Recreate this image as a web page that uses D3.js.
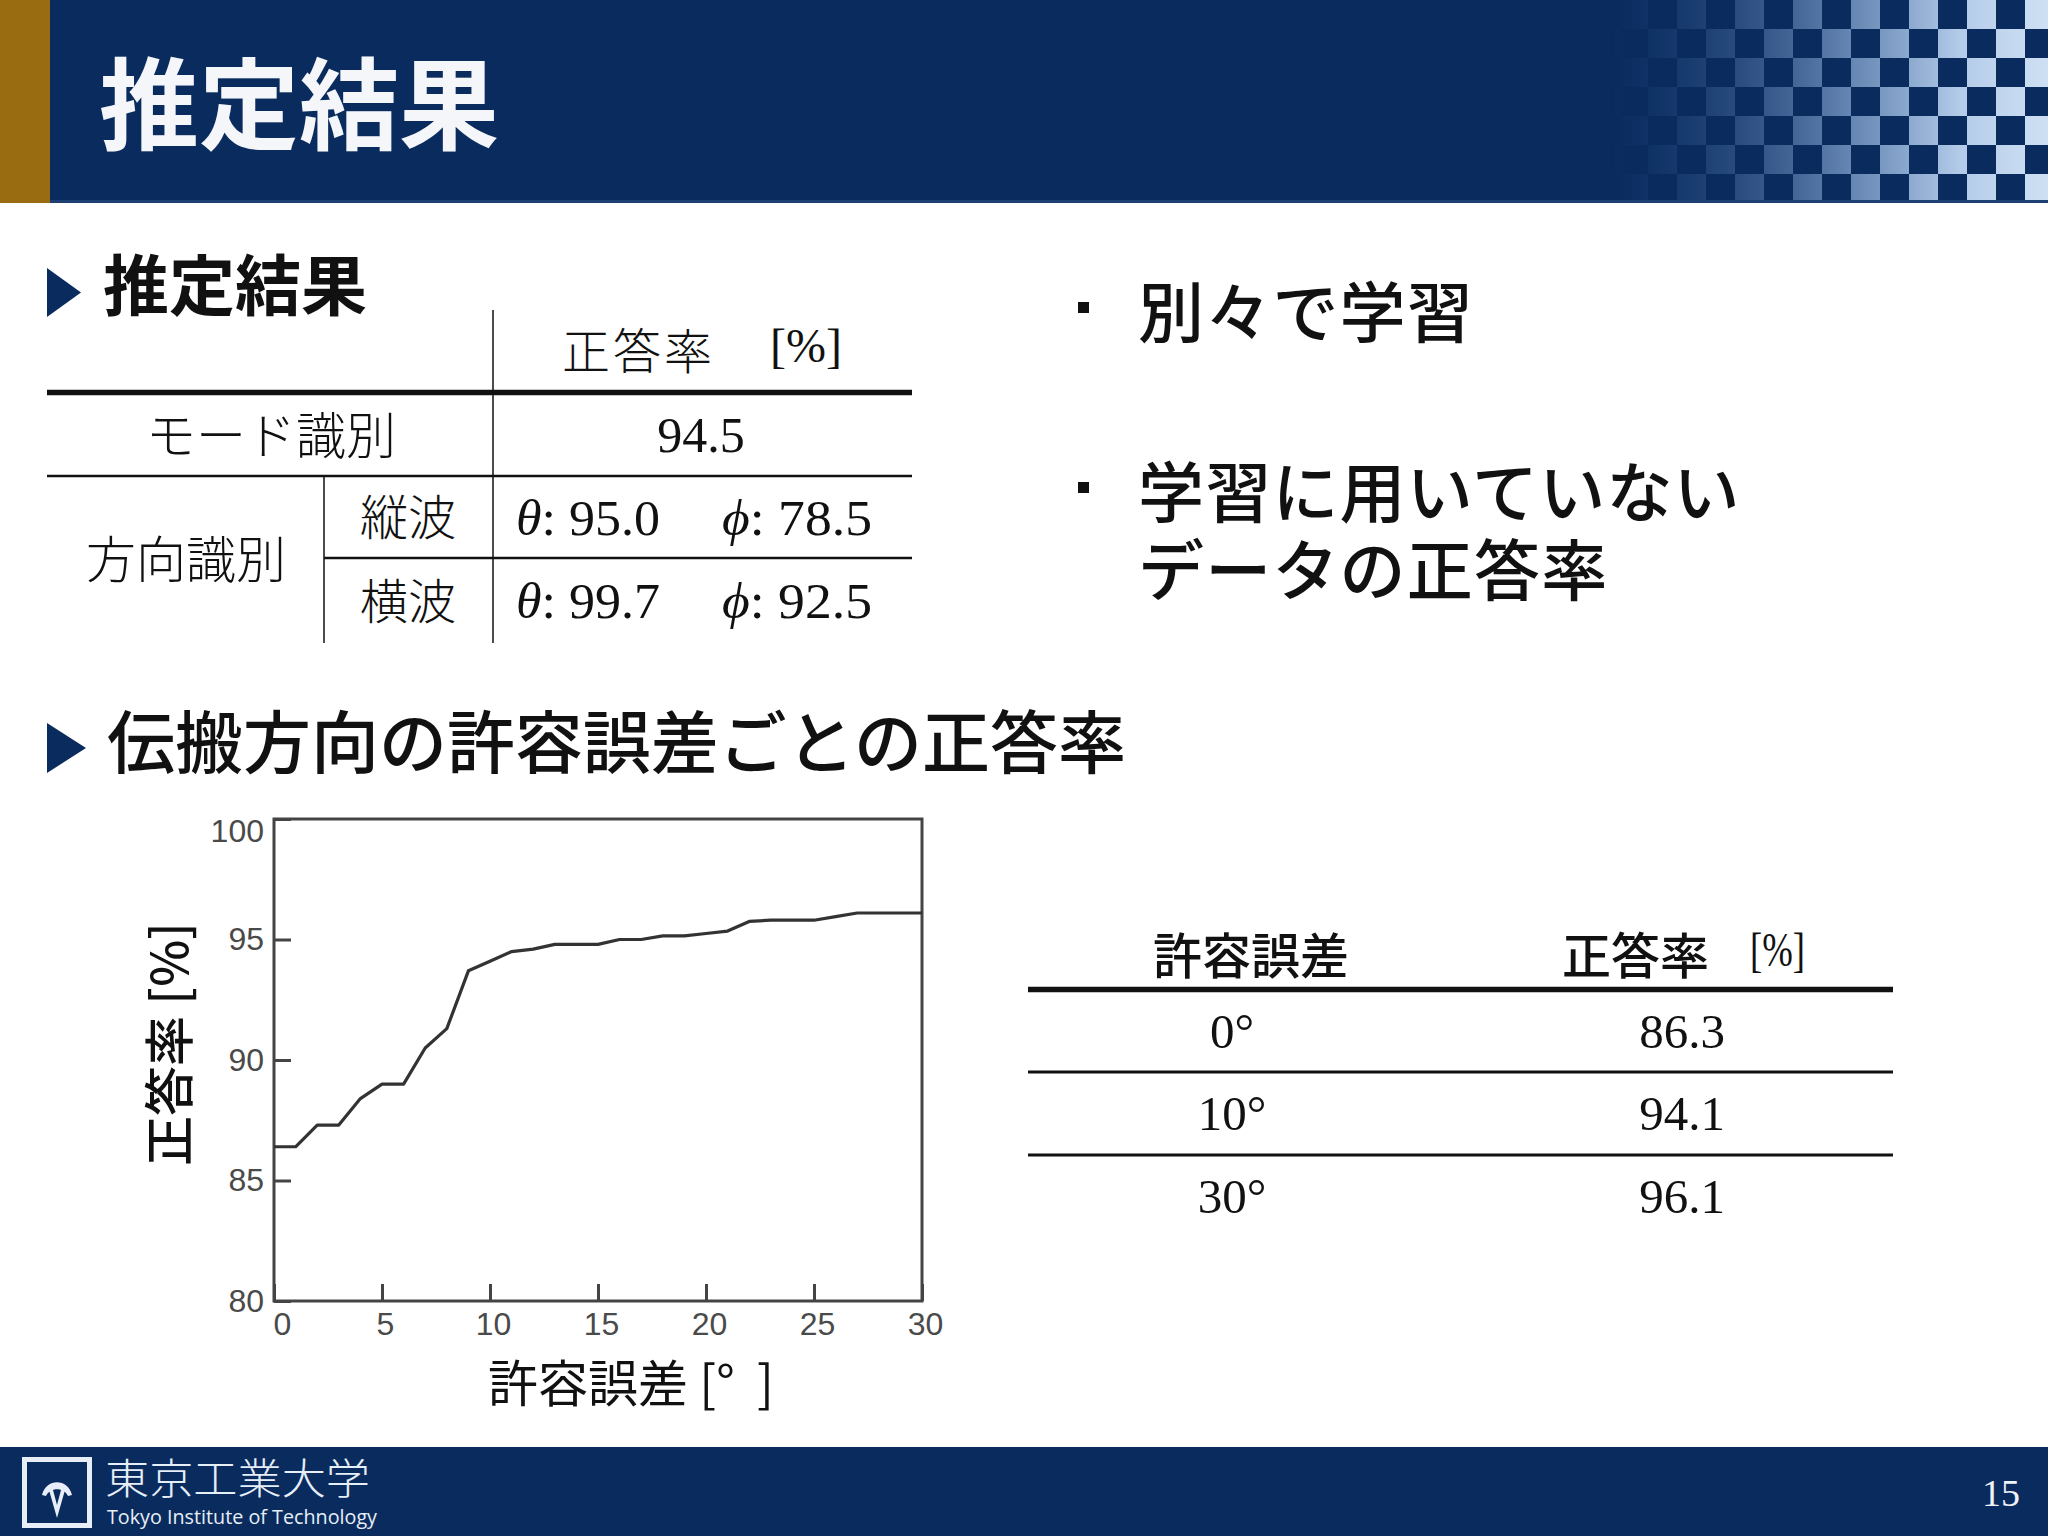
<!DOCTYPE html>
<html><head><meta charset="utf-8">
<script src="https://cdn.jsdelivr.net/npm/d3@7"></script>
<style>
html,body{margin:0;padding:0;background:#fff;}
svg{display:block;}
text{white-space:pre;}
</style></head><body>
<svg id="slide" width="2048" height="1536"></svg>
<script>
// ---------- data ----------
const slideTitle = "推定結果";
const section1Title = "推定結果";
const section2Title = "伝搬方向の許容誤差ごとの正答率";
const bulletLines = [["別々で学習"], ["学習に用いていない", "データの正答率"]];

const table1Header = ["正答率", "[%]"];
const modeLabel = "モード識別";
const modeValue = "94.5";
const directionLabel = "方向識別";
const waveTypes = ["縦波", "横波"];
const thetaValues = ["95.0", "99.7"];
const phiValues = ["78.5", "92.5"];

const table2Header = ["許容誤差", "正答率", "[%]"];
const table2Tolerance = ["0", "10", "30"];
const table2Accuracy = ["86.3", "94.1", "96.1"];

const toleranceDeg = [0,1,2,3,4,5,6,7,8,9,10,11,12,13,14,15,16,17,18,19,20,21,22,23,24,25,26,27,28,29,30];
const accuracyPct = [86.4,86.4,87.3,87.3,88.4,89.0,89.0,90.5,91.3,93.7,94.1,94.5,94.6,94.8,94.8,94.8,95.0,95.0,95.15,95.15,95.25,95.35,95.75,95.8,95.8,95.8,95.95,96.1,96.1,96.1,96.1];
const xTickValues = [0,5,10,15,20,25,30];
const yTickValues = [80,85,90,95,100];
const xAxisLabel = "許容誤差 [°  ]";
const yAxisLabel = "正答率 [%]";

const footerJa = "東京工業大学";
const footerEn = "Tokyo Institute of Technology";
const pageNumber = "15";

// ---------- styles ----------
const NAVY = "#0a2b5e";
const GOLD = "#9a6c12";
const CJK = "'Noto Sans CJK JP','Noto Sans CJK SC',sans-serif";
const SERIF = "'Liberation Serif','Times New Roman',serif";
const SANS = "'Liberation Sans',Arial,sans-serif";

const svg = d3.select("#slide");
const defs = svg.append("defs");

// ---------- header ----------
svg.append("rect").attr("x",0).attr("y",0).attr("width",2048).attr("height",203).attr("fill",NAVY);
svg.append("rect").attr("x",0).attr("y",0).attr("width",50).attr("height",203).attr("fill",GOLD);

// checker decoration
const pat = defs.append("pattern").attr("id","chk").attr("patternUnits","userSpaceOnUse")
  .attr("x",1648).attr("y",0).attr("width",58).attr("height",58);
pat.append("rect").attr("width",58).attr("height",58).attr("fill","black");
pat.append("rect").attr("x",29).attr("y",0).attr("width",29).attr("height",29).attr("fill","white");
pat.append("rect").attr("x",0).attr("y",29).attr("width",29).attr("height",29).attr("fill","white");
const fade = defs.append("linearGradient").attr("id","fade").attr("gradientUnits","userSpaceOnUse")
  .attr("x1",1610).attr("y1",0).attr("x2",1960).attr("y2",0);
fade.append("stop").attr("offset",0).attr("stop-color","black");
fade.append("stop").attr("offset",0.35).attr("stop-color","#555");
fade.append("stop").attr("offset",1).attr("stop-color","white");
const m1 = defs.append("mask").attr("id","mchk").attr("maskUnits","userSpaceOnUse")
  .attr("x",0).attr("y",0).attr("width",2048).attr("height",203);
m1.append("rect").attr("x",1600).attr("y",0).attr("width",448).attr("height",203).attr("fill","url(#chk)");
const m2 = defs.append("mask").attr("id","mfade").attr("maskUnits","userSpaceOnUse")
  .attr("x",0).attr("y",0).attr("width",2048).attr("height",203);
m2.append("rect").attr("x",1600).attr("y",0).attr("width",448).attr("height",203).attr("fill","url(#fade)");
const lightGrad = defs.append("linearGradient").attr("id","lightg").attr("gradientUnits","userSpaceOnUse")
  .attr("x1",1640).attr("y1",0).attr("x2",2048).attr("y2",0);
lightGrad.append("stop").attr("offset",0).attr("stop-color","#3f6aa3");
lightGrad.append("stop").attr("offset",0.5).attr("stop-color","#8fb0da");
lightGrad.append("stop").attr("offset",1).attr("stop-color","#cfe0f4");
svg.append("g").attr("mask","url(#mfade)")
  .append("rect").attr("x",1600).attr("y",0).attr("width",448).attr("height",200)
  .attr("fill","url(#lightg)").attr("mask","url(#mchk)");
svg.append("rect").attr("x",50).attr("y",200).attr("width",1998).attr("height",3).attr("fill","#1d3f72");

svg.append("text").attr("x",99).attr("y",98).attr("dominant-baseline","central")
  .attr("font-family",CJK).attr("font-weight",700).attr("font-size",100).attr("fill","#f4f6fa")
  .text(slideTitle);

// ---------- section markers ----------
function marker(x0, y0, y1, x1) {
  svg.append("path").attr("d", d3.line()([[x0,y0],[x1,(y0+y1)/2],[x0,y1]]) + "Z").attr("fill", NAVY);
}
marker(47, 268, 317, 81);
marker(47, 723, 773, 86);

svg.append("text").attr("x",103).attr("y",281).attr("dominant-baseline","central")
  .attr("font-family",CJK).attr("font-weight",700).attr("font-size",66).attr("fill","#111")
  .text(section1Title);
svg.append("text").attr("x",107).attr("y",738).attr("dominant-baseline","central")
  .attr("font-family",CJK).attr("font-weight",500).attr("font-size",68)
  .attr("textLength",1019).attr("lengthAdjust","spacingAndGlyphs").attr("fill","#111")
  .text(section2Title);

// ---------- table 1 ----------
const t1 = svg.append("g");
function hline(g, x1, x2, y, w) { g.append("line").attr("x1",x1).attr("x2",x2).attr("y1",y).attr("y2",y).attr("stroke","#111").attr("stroke-width",w); }
function vline(g, x, y1, y2, w) { g.append("line").attr("x1",x).attr("x2",x).attr("y1",y1).attr("y2",y2).attr("stroke","#111").attr("stroke-width",w); }
hline(t1, 47, 912, 392.5, 5.5);
hline(t1, 47, 912, 476, 2.5);
hline(t1, 324, 912, 558, 2.5);
vline(t1, 493, 310, 643, 1.5);
vline(t1, 324, 476, 643, 1.5);

function cjk(g, x, y, s, size, anchor, weight) {
  return g.append("text").attr("x",x).attr("y",y).attr("dominant-baseline","central")
    .attr("text-anchor",anchor||"middle").attr("font-family",CJK).attr("font-weight",weight||300)
    .attr("font-size",size).attr("fill","#111").text(s);
}
function serif(g, x, y, s, size, anchor) {
  return g.append("text").attr("x",x).attr("y",y).attr("text-anchor",anchor||"middle")
    .attr("font-family",SERIF).attr("font-size",size).attr("fill","#111").text(s);
}
cjk(t1, 562, 348, table1Header[0], 48, "start").attr("letter-spacing",3);
serif(t1, 770, 362, table1Header[1], 48, "start");
cjk(t1, 271, 432, modeLabel, 50);
serif(t1, 701, 452, modeValue, 50);
cjk(t1, 186, 556, directionLabel, 50);
const rowY = [514, 598];
const rowBase = [535, 618];
waveTypes.forEach((w,i) => {
  cjk(t1, 408, rowY[i], w, 48);
  const a = t1.append("text").attr("x",516).attr("y",rowBase[i]).attr("font-family",SERIF).attr("font-size",50)
    .attr("textLength",144).attr("lengthAdjust","spacingAndGlyphs").attr("fill","#111");
  a.append("tspan").attr("font-style","italic").text("θ");
  a.append("tspan").text(": " + thetaValues[i]);
  const b = t1.append("text").attr("x",722).attr("y",rowBase[i]).attr("font-family",SERIF).attr("font-size",50)
    .attr("textLength",150).attr("lengthAdjust","spacingAndGlyphs").attr("fill","#111");
  b.append("tspan").attr("font-style","italic").text("ϕ");
  b.append("tspan").text(": " + phiValues[i]);
});

// ---------- bullets ----------
const bl = svg.append("g");
const bulletY = [308, 488];
const lineGap = 78;
bulletLines.forEach((lines, i) => {
  bl.append("rect").attr("x",1078).attr("y",bulletY[i]-6).attr("width",11).attr("height",11).attr("fill","#111");
  const t = bl.append("text").attr("y",bulletY[i]).attr("dominant-baseline","central")
    .attr("font-family",CJK).attr("font-weight",500).attr("font-size",66).attr("letter-spacing",1.2)
    .attr("fill","#111");
  lines.forEach((s, j) => {
    t.append("tspan").attr("x",1138).attr("y",bulletY[i] + j*lineGap).text(s);
  });
});

// ---------- table 2 ----------
const t2 = svg.append("g");
hline(t2, 1028, 1893, 989.5, 5.5);
hline(t2, 1028, 1893, 1072, 3);
hline(t2, 1028, 1893, 1155, 3);
cjk(t2, 1251, 952, table2Header[0], 49, "middle", 500);
cjk(t2, 1562, 952, table2Header[1], 49, "start", 500);
serif(t2, 1750, 966, table2Header[2], 48, "start").attr("textLength",55).attr("lengthAdjust","spacingAndGlyphs");
const t2Base = [1048, 1130, 1213];
table2Tolerance.forEach((d,i) => {
  serif(t2, 1232, t2Base[i], d + "°", 49);
  serif(t2, 1682, t2Base[i], table2Accuracy[i], 49);
});

// ---------- chart ----------
const x = d3.scaleLinear().domain([0,30]).range([274,922]);
const y = d3.scaleLinear().domain([80,100]).range([1301,819]);
const chart = svg.append("g");

const xAxis = chart.append("g").attr("transform",`translate(0,${y(80)})`)
  .call(d3.axisBottom(x).tickValues(xTickValues).tickSize(-17).tickPadding(11).tickFormat(d3.format("d")));
const yAxis = chart.append("g").attr("transform",`translate(${x(0)},0)`)
  .call(d3.axisLeft(y).tickValues(yTickValues).tickSize(-17).tickPadding(10).tickFormat(d3.format("d")));
[xAxis, yAxis].forEach(a => {
  a.select(".domain").remove();
  a.selectAll(".tick line").attr("stroke","#444").attr("stroke-width",3);
  a.selectAll(".tick text").attr("fill","#4a4a4a").attr("font-family",SANS).attr("font-size",32);
});
xAxis.selectAll(".tick text").attr("dx", d => d === 0 ? 8 : 3);
yAxis.selectAll(".tick text").attr("dy", d => d === 100 ? "0.7em" : "0.32em");

chart.append("rect").attr("x",x(0)).attr("y",y(100)).attr("width",x(30)-x(0)).attr("height",y(80)-y(100))
  .attr("fill","none").attr("stroke","#444").attr("stroke-width",3);

const pts = toleranceDeg.map((d,i) => [d, accuracyPct[i]]);
chart.append("path").datum(pts)
  .attr("d", d3.line().x(d => x(d[0])).y(d => y(d[1])))
  .attr("fill","none").attr("stroke","#333").attr("stroke-width",3.2).attr("stroke-linejoin","round");

chart.append("text").attr("transform","translate(166,1044) rotate(-90)").attr("text-anchor","middle")
  .attr("dominant-baseline","central").attr("font-family",CJK).attr("font-weight",500).attr("font-size",50)
  .attr("fill","#111").text(yAxisLabel);
chart.append("text").attr("x",631).attr("y",1380).attr("text-anchor","middle")
  .attr("dominant-baseline","central").attr("font-family",CJK).attr("font-weight",400).attr("font-size",50)
  .attr("fill","#111").text(xAxisLabel);

// ---------- footer ----------
svg.append("rect").attr("x",0).attr("y",1447).attr("width",2048).attr("height",89).attr("fill",NAVY);
const logo = svg.append("g");
logo.append("rect").attr("x",22).attr("y",1457).attr("width",70).attr("height",71).attr("fill","#e8eef7");
logo.append("rect").attr("x",27).attr("y",1462).attr("width",60).attr("height",61).attr("fill",NAVY);
logo.append("path").attr("d","M42,1495 C46,1478 68,1478 72,1495 L68,1496 C64,1487 50,1487 46,1496 Z").attr("fill","#e8eef7");
logo.append("path").attr("d","M49,1490 L57,1518 L65,1490 L61,1490 L57,1505 L53,1490 Z").attr("fill","#e8eef7");
const ft = svg.append("text").attr("fill","#e6eef8");
ft.append("tspan").attr("x",105).attr("y",1494)
  .attr("font-family",CJK).attr("font-weight",300).attr("font-size",42)
  .attr("textLength",265).attr("lengthAdjust","spacingAndGlyphs").text(footerJa);
ft.append("tspan").attr("x",107).attr("y",1524).attr("font-family","'Open Sans',Lato,sans-serif")
  .attr("font-size",20).attr("textLength",270).attr("lengthAdjust","spacingAndGlyphs").text(footerEn);
svg.append("text").attr("x",2001).attr("y",1506).attr("text-anchor","middle").attr("font-family",SERIF)
  .attr("font-size",38).attr("fill","#f0f3f8").text(pageNumber);
</script>
</body></html>
